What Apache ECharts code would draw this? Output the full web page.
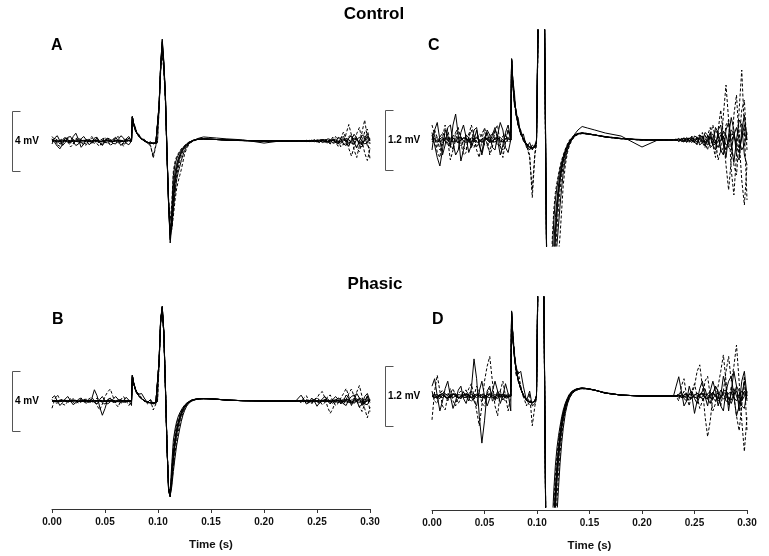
<!DOCTYPE html>
<html>
<head>
<meta charset="utf-8">
<script src="https://cdn.jsdelivr.net/npm/echarts@6/dist/echarts.min.js"></script>
<style>
html,body{margin:0;padding:0;background:#fff;}
#chart{width:769px;height:556px;}
</style>
</head>
<body>
<div id="chart"></div>
<script>
// ---------- sample times (s) ----------
const T_PRE = [0,0.0025,0.005,0.0075,0.01,0.0125,0.015,0.0175,0.02,0.0225,0.025,0.0275,0.03,0.0325,0.035,0.0375,0.04,0.0425,0.045,0.0475,0.05,0.0525,0.055,0.0575,0.06,0.0625,0.065,0.0675,0.07,0.0725,0.075];
const T_MID = [0.0756,0.0758,0.0770,0.0785,0.0800,0.0820,0.0845,0.0870,0.0900,0.0930,0.0955,0.0980,
  0.0995,0.1010,0.1025,0.1040,0.1055,0.1070,0.1085,0.1100,0.1115,
  0.1130,0.1145,0.1160,0.1175,0.1190,0.1205,0.1220,0.1235,0.1250,0.1270,0.1290,0.1310,0.1335,0.1360,0.1390,0.1430,0.1480,0.1550,0.1650,0.1800,0.2000,0.2150,0.2300];
const T_END = [0.2325,0.235,0.2375,0.24,0.2425,0.245,0.2475,0.25,0.2525,0.255,0.2575,0.26,0.2625,0.265,0.2675,0.27,0.2725,0.275,0.2775,0.28,0.2825,0.285,0.2875,0.29,0.2925,0.295,0.2975,0.3];

// ---------- Control traces (mV) ----------
const CONTROL_PRE = [
  [0.15,-0.1,-0.35,-0.52,-0.2,0.2,0.1,-0.15,0.3,0.52,0.1,-0.42,-0.2,0.1,0.05,-0.15,0.0,0.2,-0.1,-0.25,0.05,0.15,-0.05,0.1,0.25,0.0,-0.3,-0.1,0.15,0.3,0.0],
  [-0.2,0.2,0.35,0.0,-0.3,-0.1,0.25,0.3,-0.05,-0.3,-0.2,0.15,0.3,0.05,-0.25,-0.1,0.2,0.25,-0.1,-0.3,-0.05,0.2,0.1,-0.15,-0.2,0.1,0.35,0.2,-0.15,-0.25,0.0],
  [0.3,0.1,-0.25,-0.35,0.05,0.3,0.0,-0.4,-0.2,0.15,0.25,-0.05,-0.3,-0.25,0.1,0.3,0.1,-0.2,-0.35,0.0,0.25,0.05,-0.3,-0.15,0.2,0.3,-0.1,-0.35,-0.05,0.2,0.0],
  [0.05,0.0,-0.05,0.02,0.06,-0.03,-0.05,0.04,0.05,-0.02,-0.06,0.0,0.05,0.03,-0.04,-0.05,0.02,0.06,0.0,-0.05,-0.02,0.04,0.05,-0.03,-0.04,0.02,0.05,0.0,-0.05,0.02,0.0],
  [-0.04,0.03,0.05,-0.02,-0.05,0.02,0.06,0.0,-0.04,-0.03,0.04,0.05,-0.02,-0.05,0.0,0.04,0.03,-0.04,-0.05,0.02,0.05,0.0,-0.05,-0.02,0.04,0.05,-0.03,-0.04,0.03,0.05,0.0],
  [0.0,0.2,0.05,-0.2,-0.1,0.15,0.2,-0.05,-0.2,0.0,0.18,0.1,-0.15,-0.2,0.05,0.2,0.0,-0.15,-0.05,0.15,0.2,-0.1,-0.25,0.0,0.2,0.1,-0.15,-0.2,0.1,0.2,0.0],
  [0.1,-0.1,-0.15,0.05,0.15,0.05,-0.12,-0.1,0.08,0.15,0.0,-0.12,-0.05,0.1,0.12,-0.05,-0.15,0.0,0.12,0.08,-0.1,-0.12,0.05,0.15,0.02,-0.12,-0.1,0.08,0.12,-0.05,0.0],
  [0.0,0.03,-0.02,-0.04,0.02,0.04,0.0,-0.03,0.03,0.02,-0.04,-0.01,0.03,0.04,-0.02,-0.03,0.01,0.04,0.0,-0.04,0.02,0.03,-0.02,-0.03,0.02,0.04,0.0,-0.03,0.02,0.03,0.0]
];
const CONTROL_MID = [
  [0.0,1.6,1.2,0.95,0.5,0.45,0.1,0.12,-0.15,-0.05,-0.2,-0.1, 0.0,2.4,5.0,6.5,5.0,2.8,-1.0,-4.3,-6.3,
   -4.6,-2.3,-1.6,-1.2,-0.95,-0.75,-0.58,-0.44,-0.33,-0.2,-0.1,-0.02,0.05,0.1,0.13,0.14,0.12,0.1,0.07,0.03,0.0,0.01,0.0],
  [0.0,1.62,1.1,0.7,0.62,0.3,0.2,-0.02,-0.1,-0.2,-0.1,-0.15, -0.05,2.2,5.0,6.8,5.3,3.1,-0.7,-4.2,-6.8,
   -5.6,-4.0,-2.8,-2.0,-1.5,-1.1,-0.82,-0.6,-0.43,-0.27,-0.15,-0.06,0.03,0.12,0.2,0.27,0.24,0.2,0.14,0.08,-0.14,0.0,0.0],
  [0.0,1.6,1.15,0.75,0.5,0.35,0.12,0.05,-0.1,-0.3,-1.15,-0.3, -0.1,2.1,4.7,6.0,4.9,2.7,-1.0,-4.0,-5.6,
   -5.9,-5.0,-4.0,-3.2,-2.7,-2.3,-1.9,-1.4,-0.9,-0.5,-0.25,-0.1,0.0,0.07,0.11,0.13,0.12,0.1,0.06,0.02,0.0,0.0,0.0],
  [0.0,1.62,1.15,0.8,0.55,0.32,0.14,0.02,-0.08,-0.14,-0.16,-0.13, -0.05,2.3,5.0,6.6,5.1,3.0,-0.8,-4.2,-6.5,
   -5.4,-3.6,-2.5,-1.8,-1.35,-1.0,-0.75,-0.55,-0.4,-0.25,-0.13,-0.04,0.04,0.09,0.12,0.14,0.13,0.1,0.06,0.03,0.0,-0.01,0.0],
  [0.0,1.6,1.12,0.78,0.54,0.31,0.13,0.02,-0.08,-0.15,-0.17,-0.14, -0.06,2.2,4.8,6.2,5.0,2.9,-0.9,-4.0,-6.0,
   -5.8,-4.6,-3.5,-2.6,-2.1,-1.7,-1.3,-0.95,-0.65,-0.38,-0.2,-0.08,0.02,0.08,0.12,0.13,0.12,0.1,0.06,0.03,0.01,0.0,0.0],
  [0.0,1.58,1.1,0.75,0.52,0.3,0.12,0.0,-0.1,-0.35,-1.0,-0.25, -0.05,2.1,4.6,5.8,4.7,2.6,-1.0,-3.9,-5.3,
   -4.2,-2.0,-1.4,-1.05,-0.85,-0.68,-0.52,-0.4,-0.3,-0.18,-0.08,0.0,0.06,0.1,0.13,0.14,0.12,0.1,0.07,0.03,0.0,0.0,0.0],
  [0.0,1.62,1.18,0.82,0.56,0.33,0.15,0.03,-0.07,-0.13,-0.15,-0.12, -0.04,2.35,5.0,6.4,5.1,3.0,-0.8,-4.1,-6.2,
   -5.7,-4.3,-3.1,-2.3,-1.8,-1.35,-1.0,-0.72,-0.5,-0.3,-0.16,-0.06,0.03,0.09,0.12,0.14,0.13,0.1,0.06,0.03,0.0,0.0,0.0],
  [0.0,1.63,1.16,0.81,0.55,0.32,0.14,0.02,-0.08,-0.14,-0.16,-0.13, -0.05,2.3,5.1,6.7,5.2,3.0,-0.8,-4.3,-6.6,
   -5.2,-3.0,-2.1,-1.55,-1.2,-0.9,-0.68,-0.5,-0.37,-0.23,-0.12,-0.03,0.05,0.1,0.13,0.14,0.13,0.1,0.06,0.03,0.0,0.0,0.0]
];
const CONTROL_END = [
  [0.02,-0.03,0.0,0.04,-0.05,0.03,0.06,-0.05,-0.08,0.1,0.05,-0.12,0.0,0.15,-0.1,-0.2,0.2,0.3,-0.1,-0.35,0.1,0.45,0.2,-0.3,-0.4,0.2,0.5,0.0],
  [0.0,0.03,-0.02,-0.04,0.05,0.0,-0.05,0.08,0.05,-0.1,-0.05,0.15,0.1,-0.15,-0.1,0.25,0.15,-0.2,-0.3,0.2,0.35,-0.1,-0.45,0.0,0.4,0.3,-0.3,-0.5],
  [0.0,0.02,-0.03,0.05,0.0,-0.05,0.08,0.0,-0.1,0.05,0.15,-0.05,-0.2,0.1,0.3,0.0,-0.4,-0.2,0.5,1.1,0.4,-0.6,-1.1,-0.3,0.6,1.4,0.2,-1.2],
  [0.0,-0.02,0.02,0.03,-0.03,-0.02,0.04,0.02,-0.05,0.03,0.08,-0.05,-0.1,0.08,0.12,-0.05,-0.15,0.0,0.18,0.1,-0.15,-0.2,0.1,0.25,0.0,-0.2,-0.1,0.15],
  [0.0,0.02,0.0,-0.03,0.02,0.04,-0.02,-0.04,0.05,0.02,-0.06,0.0,0.08,0.05,-0.1,-0.08,0.1,0.15,-0.05,-0.2,0.0,0.2,0.15,-0.15,-0.25,0.05,0.3,0.1],
  [0.0,-0.02,0.03,0.0,-0.04,0.05,0.0,-0.06,0.08,0.1,-0.05,-0.15,0.1,0.25,-0.1,-0.35,0.2,0.6,0.1,-0.5,-1.0,-0.4,0.5,0.9,0.0,-0.8,-1.3,-0.5],
  [0.0,0.01,-0.02,0.02,0.03,-0.02,-0.03,0.04,0.0,-0.05,0.06,0.1,-0.05,-0.12,0.05,0.2,0.1,-0.25,-0.15,0.3,0.4,0.0,-0.5,-0.7,0.0,0.6,0.8,-0.2],
  [0.0,0.0,0.02,-0.02,0.0,0.03,0.0,-0.03,0.02,0.04,-0.02,-0.05,0.03,0.06,0.0,-0.08,-0.03,0.1,0.05,-0.1,-0.08,0.12,0.1,-0.1,-0.15,0.05,0.15,0.0]
];
const CONTROL_DASHED = [false,false,true,false,false,true,true,false];

// ---------- Phasic traces (mV) ----------
const PHASIC_PRE = [
  [0.05,0.0,-0.05,0.03,0.05,-0.02,-0.04,0.0,0.05,0.02,-0.05,0.0,0.08,0.0,-0.1,0.15,0.75,0.35,-0.4,-0.95,-0.5,0.1,0.2,-0.1,-0.05,0.1,0.0,-0.08,0.0,0.05,0.0],
  [-0.48,0.1,0.42,0.1,-0.2,-0.28,0.0,0.15,-0.1,-0.2,0.05,0.1,-0.05,0.0,0.15,0.25,0.0,-0.3,-0.6,-0.2,0.3,0.6,0.8,0.3,-0.2,-0.4,0.1,0.3,0.0,-0.3,0.0],
  [0.2,0.35,0.0,-0.3,-0.1,0.15,0.3,0.0,-0.25,-0.1,0.12,0.2,-0.05,-0.15,0.05,0.1,-0.1,-0.2,0.1,0.3,0.0,-0.2,-0.05,0.1,0.3,0.1,-0.15,0.0,0.25,0.05,-0.3],
  [0.0,0.04,-0.03,-0.05,0.02,0.05,0.0,-0.04,0.03,0.05,-0.02,-0.05,0.0,0.04,0.03,-0.03,-0.05,0.02,0.05,0.0,-0.04,-0.02,0.04,0.05,-0.02,-0.05,0.0,0.04,0.02,-0.03,0.0],
  [0.03,-0.02,-0.04,0.02,0.05,0.0,-0.05,-0.02,0.04,0.03,-0.03,-0.04,0.02,0.05,0.0,-0.04,0.0,0.04,0.02,-0.04,-0.03,0.03,0.05,0.0,-0.05,-0.02,0.04,0.03,-0.03,0.0,0.0],
  [0.1,-0.1,-0.15,0.05,0.12,0.0,-0.1,0.05,0.15,0.0,-0.15,-0.05,0.1,0.12,-0.05,-0.12,0.0,0.2,0.1,-0.15,-0.2,0.05,0.15,0.0,-0.1,0.05,0.1,-0.05,-0.1,0.0,0.0],
  [-0.02,0.02,0.03,-0.01,-0.03,0.02,0.04,0.0,-0.03,0.0,0.03,0.02,-0.02,-0.03,0.01,0.03,0.0,-0.03,0.0,0.03,0.02,-0.02,-0.03,0.01,0.03,0.0,-0.02,0.0,0.02,0.0,0.0],
  [0.0,-0.03,0.0,0.03,0.02,-0.02,-0.03,0.02,0.04,0.0,-0.04,0.0,0.03,0.01,-0.03,-0.02,0.03,0.02,-0.02,-0.03,0.0,0.03,0.02,-0.03,-0.02,0.02,0.03,-0.01,-0.02,0.0,0.0]
];
const PHASIC_MID = [
  [0.0,1.7,1.2,0.8,0.55,0.34,0.15,0.02,-0.08,-0.12,-0.13,-0.1, 0.0,2.6,5.4,6.3,4.6,1.0,-3.0,-6.0,-6.4,
   -5.0,-3.6,-2.7,-2.0,-1.5,-1.1,-0.8,-0.55,-0.38,-0.2,-0.08,0.02,0.08,0.12,0.15,0.16,0.15,0.12,0.06,0.02,0.0,0.0,0.0],
  [0.0,1.65,1.25,0.9,0.4,0.5,0.2,0.0,-0.2,0.05,-0.6,-0.2, -0.05,2.4,5.2,6.0,4.4,0.8,-3.1,-5.7,-6.1,
   -5.5,-4.4,-3.5,-2.7,-2.1,-1.6,-1.15,-0.8,-0.55,-0.3,-0.14,-0.03,0.05,0.1,0.13,0.15,0.14,0.12,0.06,0.02,0.0,0.0,0.0],
  [-0.3,1.6,1.1,0.85,0.6,0.45,0.5,0.2,-0.1,0.1,-0.2,-0.15, 0.0,2.7,5.5,6.2,4.5,0.9,-3.0,-5.8,-6.0,
   -4.2,-2.6,-1.9,-1.4,-1.05,-0.8,-0.6,-0.42,-0.28,-0.14,-0.04,0.04,0.1,0.13,0.15,0.16,0.15,0.12,0.07,0.02,0.0,0.0,0.0],
  [0.0,1.72,1.22,0.82,0.56,0.34,0.15,0.02,-0.08,-0.12,-0.13,-0.1, 0.0,2.6,5.3,6.27,4.6,1.0,-3.0,-6.0,-6.4,
   -5.3,-4.0,-3.0,-2.3,-1.75,-1.3,-0.95,-0.68,-0.46,-0.26,-0.12,-0.01,0.07,0.11,0.14,0.16,0.15,0.12,0.06,0.02,0.0,0.0,0.0],
  [0.0,1.68,1.18,0.79,0.54,0.33,0.14,0.02,-0.08,-0.12,-0.13,-0.1, 0.0,2.5,5.2,6.1,4.5,0.9,-3.1,-5.9,-6.2,
   -4.9,-3.4,-2.5,-1.85,-1.4,-1.02,-0.74,-0.52,-0.35,-0.18,-0.07,0.03,0.09,0.12,0.15,0.16,0.15,0.12,0.06,0.02,0.0,0.0,0.0],
  [0.0,1.66,1.2,0.78,0.58,0.3,0.18,-0.02,-0.05,-0.2,-0.15,-0.08, 0.0,2.7,5.5,6.3,4.6,1.0,-2.9,-5.9,-6.3,
   -4.6,-3.0,-2.2,-1.6,-1.2,-0.9,-0.66,-0.47,-0.32,-0.16,-0.05,0.04,0.1,0.13,0.15,0.16,0.15,0.12,0.06,0.02,0.0,0.0,0.0],
  [0.0,1.7,1.2,0.8,0.55,0.33,0.15,0.02,-0.08,-0.12,-0.13,-0.1, 0.0,2.5,5.3,6.2,4.5,0.9,-3.0,-5.8,-6.3,
   -5.7,-4.7,-3.8,-3.0,-2.4,-1.85,-1.35,-0.95,-0.65,-0.35,-0.16,-0.04,0.05,0.1,0.13,0.15,0.14,0.12,0.06,0.02,0.0,0.0,0.0],
  [0.0,1.7,1.21,0.81,0.55,0.34,0.15,0.02,-0.08,-0.12,-0.13,-0.1, 0.0,2.6,5.4,6.3,4.6,1.0,-3.0,-6.0,-6.3,
   -5.1,-3.8,-2.8,-2.1,-1.6,-1.2,-0.87,-0.6,-0.42,-0.22,-0.1,0.01,0.08,0.12,0.15,0.16,0.15,0.12,0.06,0.02,0.0,0.0,0.0]
];
const PHASIC_END = [
  [0.0,0.03,0.08,-0.05,-0.1,0.05,0.1,-0.05,-0.15,0.0,0.1,0.15,-0.05,-0.15,0.05,0.2,0.1,-0.2,-0.3,0.1,0.3,0.4,0.0,-0.4,-0.2,0.3,0.5,0.0],
  [0.0,0.05,-0.05,0.1,0.0,-0.1,0.05,0.2,0.5,0.63,0.2,-0.4,-0.82,-0.5,0.0,0.2,0.0,-0.2,0.1,0.5,0.8,0.3,0.6,1.03,0.3,-0.5,-1.12,-0.4],
  [0.2,0.39,0.1,-0.2,-0.1,0.2,0.0,-0.35,-0.1,0.15,0.3,0.0,-0.2,0.1,0.3,0.1,-0.2,0.0,0.4,0.2,-0.3,0.1,0.5,0.2,-0.3,0.0,0.3,-0.1],
  [0.0,0.02,-0.03,0.03,0.05,-0.03,-0.05,0.02,0.06,0.0,-0.06,-0.03,0.05,0.08,-0.04,-0.1,0.0,0.12,0.05,-0.1,-0.12,0.05,0.15,0.0,-0.15,-0.05,0.1,0.0],
  [0.0,-0.02,0.02,0.0,-0.04,0.03,0.05,-0.02,-0.05,0.04,0.06,-0.03,-0.06,0.02,0.08,0.0,-0.1,-0.05,0.1,0.12,-0.05,-0.15,0.0,0.2,0.1,-0.2,-0.25,0.1],
  [0.0,-0.1,0.2,0.35,0.0,-0.2,0.1,0.25,0.0,-0.25,-0.1,0.3,0.4,0.0,-0.3,-0.15,0.2,0.5,0.83,0.3,-0.2,0.2,0.0,-0.4,-0.7,-0.2,0.4,-0.7],
  [0.0,0.01,-0.02,0.02,0.03,-0.02,-0.03,0.03,0.02,-0.03,-0.02,0.04,0.03,-0.04,-0.05,0.03,0.06,0.0,-0.06,-0.04,0.06,0.08,-0.03,-0.1,0.0,0.1,0.05,-0.05],
  [0.0,0.0,0.02,-0.02,-0.01,0.03,0.01,-0.03,-0.02,0.03,0.04,-0.03,-0.05,0.02,0.06,0.0,-0.06,-0.03,0.07,0.05,-0.06,-0.08,0.04,0.1,-0.02,-0.1,0.0,0.08]
];
const PHASIC_DASHED = [false,true,false,false,false,true,false,false];

// ---------- axes / labels ----------
const X_MIN = 0, X_MAX = 0.3, X_STEP = 0.05;
const PANEL_LETTERS = ['A','C','B','D'];
const ROW_TITLES = ['Control','Phasic'];
const SCALE_BARS_MV = [4, 1.2, 4, 1.2];
const SCALE_LABELS = ['4 mV','1.2 mV','4 mV','1.2 mV'];
const Y_RANGES = [[-7.0,7.4],[-2.12,2.2],[-7.2,7.0],[-2.24,2.0]];

const FONT = '"Liberation Sans", Arial, Helvetica, sans-serif';
const T_ALL = T_PRE.concat(T_MID, T_END);

function traceData(pre, mid, end) {
  const v = pre.concat(mid, end);
  return T_ALL.map((t, i) => [t, v[i]]);
}

const grids = [
  {left: 52, top: 30, width: 318, height: 216},
  {left: 432, top: 30, width: 315, height: 216},
  {left: 52, top: 296, width: 318, height: 213},
  {left: 432, top: 297, width: 315, height: 210}
];
const AXIS_OFFSET = [0, 0, 0, 3];

const xAxes = grids.map((g, i) => {
  const shown = i >= 2;
  return {
    type: 'value', gridIndex: i, min: X_MIN, max: X_MAX, interval: X_STEP,
    show: shown, offset: AXIS_OFFSET[i],
    name: shown ? 'Time (s)' : '',
    nameLocation: 'middle', nameGap: 30,
    nameTextStyle: {fontFamily: FONT, fontWeight: 'bold', fontSize: 11.5, color: '#111'},
    axisLine: {show: shown, onZero: false, lineStyle: {color: '#333', width: 1}},
    axisTick: {show: shown, inside: false, length: 4, lineStyle: {color: '#333'}},
    axisLabel: {show: shown, fontFamily: FONT, fontWeight: 'bold', fontSize: 10, color: '#111', margin: 8,
      formatter: v => v.toFixed(2)},
    splitLine: {show: false}
  };
});
const yAxes = grids.map((g, i) => ({
  type: 'value', gridIndex: i, min: Y_RANGES[i][0], max: Y_RANGES[i][1], show: false, splitLine: {show: false}
}));

const series = [];
function addTraces(gridIdx, PRE, MID, END, DASHED) {
  for (let k = 0; k < PRE.length; k++) {
    series.push({
      type: 'line', xAxisIndex: gridIdx, yAxisIndex: gridIdx,
      data: traceData(PRE[k], MID[k], END[k]),
      showSymbol: false, symbol: 'none', clip: true, animation: false, silent: true,
      lineStyle: {color: '#000', width: 1, type: DASHED[k] ? [3, 2] : 'solid'}
    });
  }
}
addTraces(0, CONTROL_PRE, CONTROL_MID, CONTROL_END, CONTROL_DASHED);
addTraces(1, CONTROL_PRE, CONTROL_MID, CONTROL_END, CONTROL_DASHED);
addTraces(2, PHASIC_PRE, PHASIC_MID, PHASIC_END, PHASIC_DASHED);
addTraces(3, PHASIC_PRE, PHASIC_MID, PHASIC_END, PHASIC_DASHED);

const chart = echarts.init(document.getElementById('chart'), null, {renderer: 'canvas'});
chart.setOption({
  backgroundColor: '#fff',
  animation: false,
  grid: grids,
  xAxis: xAxes,
  yAxis: yAxes,
  series: series
});

// annotations: titles, panel letters, scale bars (positions from the axes' scales)
const gfx = [];
gfx.push({type: 'text', x: 374, y: 14, style: {text: ROW_TITLES[0], font: 'bold 17px ' + FONT, fill: '#000', textAlign: 'center', textVerticalAlign: 'middle'}});
gfx.push({type: 'text', x: 375, y: 284, style: {text: ROW_TITLES[1], font: 'bold 17px ' + FONT, fill: '#000', textAlign: 'center', textVerticalAlign: 'middle'}});
const letterPos = [[51, 46], [428, 46], [52, 320], [432, 320]];
const barX = [12, 385, 12, 385];
for (let i = 0; i < 4; i++) {
  gfx.push({type: 'text', x: letterPos[i][0], y: letterPos[i][1],
    style: {text: PANEL_LETTERS[i], font: 'bold 16px ' + FONT, fill: '#000', textAlign: 'left', textVerticalAlign: 'middle'}});
  const half = SCALE_BARS_MV[i] / 2;
  const yTop = chart.convertToPixel({gridIndex: i}, [0, half])[1];
  const yBot = chart.convertToPixel({gridIndex: i}, [0, -half])[1];
  const yMid = chart.convertToPixel({gridIndex: i}, [0, 0])[1];
  const x = barX[i] + 0.5;
  gfx.push({type: 'polyline', shape: {points: [[x + 8, Math.round(yTop) + 0.5], [x, Math.round(yTop) + 0.5], [x, Math.round(yBot) + 0.5], [x + 8, Math.round(yBot) + 0.5]]},
    style: {stroke: '#555', lineWidth: 1, fill: null}});
  gfx.push({type: 'text', x: barX[i] + 3, y: yMid,
    style: {text: SCALE_LABELS[i], font: 'bold 10px ' + FONT, fill: '#000', textAlign: 'left', textVerticalAlign: 'middle'}});
}
chart.setOption({graphic: gfx});
</script>
</body>
</html>
